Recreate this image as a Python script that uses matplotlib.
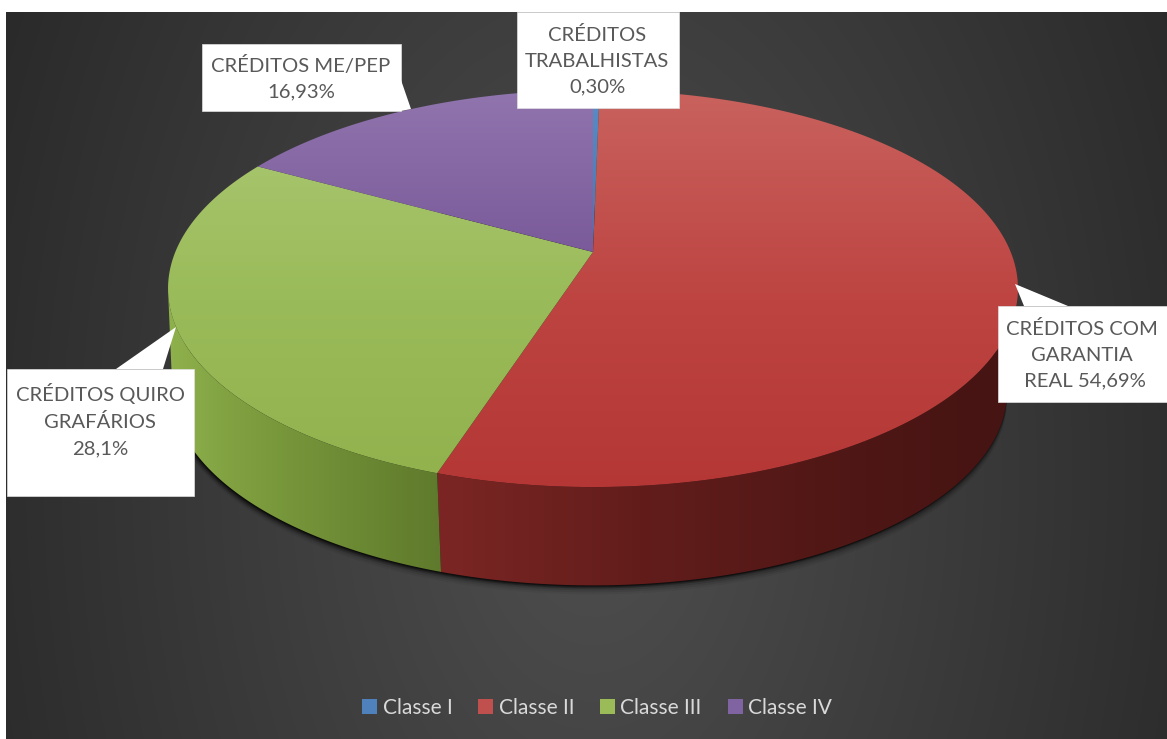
import numpy as np
import matplotlib
matplotlib.use('Agg')
from matplotlib import pyplot as plt
from matplotlib.patches import Polygon, Patch

classes = ['Classe I', 'Classe II', 'Classe III', 'Classe IV']
shares = [0.30, 54.69, 28.1, 16.93]
labels = ['CRÉDITOS\nTRABALHISTAS\n0,30%',
          'CRÉDITOS COM\nGARANTIA\n REAL 54,69%',
          'CRÉDITOS QUIRO\nGRAFÁRIOS\n28,1%',
          'CRÉDITOS ME/PEP\n16,93%']
base_colors = ['#4f81bd', '#c0504d', '#9bbb59', '#8064a2']

W, H = 1167, 739
# pie projection, pixel units
CX, CY = 593, 252
RX, RY, TILT = 417.7, 191.8, 0.184
RIM_CX, RIM_CY = 593, 288.5
SHRINK, BOTTOM_CY = 0.974, 392
LEFT_BULGE = 7

plt.rcParams['font.family'] = ['Lato', 'DejaVu Sans']
fig = plt.figure(figsize=(W / 100, H / 100), dpi=100)
ax = fig.add_axes([0, 0, 1, 1])
ax.axis('off')


def hex_rgb(c):
    return np.array(matplotlib.colors.to_rgb(c))


def top_xy(deg):
    # point of the top face rim, angle clockwise from twelve o'clock
    a = np.radians(deg)
    u, v = np.sin(a), np.cos(a)
    w = 1 + TILT * v
    return CX + RX * u / w, CY - RY * v / w


def bottom_xy(deg):
    x, y = top_xy(deg)
    bulge = LEFT_BULGE * np.clip(-np.sin(np.radians(deg)), 0, 1) ** 3
    return RIM_CX + (x - RIM_CX) * SHRINK - bulge, BOTTOM_CY + (y - RIM_CY) * SHRINK


def gradient_fill(poly, stops, axis='y', zorder=2):
    # paint a polygon with a linear gradient through (pixel, colour) stops
    pos = [s[0] for s in stops]
    cols = np.array([hex_rgb(s[1]) for s in stops])
    n = H if axis == 'y' else W
    t = np.arange(n) + 0.5
    ramp = np.stack([np.interp(t, pos, cols[:, i]) for i in range(3)], axis=-1)
    img = ramp[:, None, :] if axis == 'y' else ramp[None, :, :]
    im = ax.imshow(img, extent=[0, W, H, 0], aspect='auto', zorder=zorder,
                   interpolation='bilinear')
    patch = Polygon(poly, closed=True, transform=ax.transData, fc='none', ec='none')
    ax.add_patch(patch)
    im.set_clip_path(patch)


def wall_visible(deg):
    # the wall faces the viewer where the rim runs left to right across the drop
    tx0, ty0 = top_xy(deg - 0.05)
    tx1, ty1 = top_xy(deg + 0.05)
    bx, by = bottom_xy(deg)
    tx, ty = top_xy(deg)
    return (tx1 - tx0) * (by - ty) - (ty1 - ty0) * (bx - tx) < 0


# background glow
yy, xx = np.mgrid[0:H, 0:W]
dist = np.sqrt(((xx - 590) / 590.0) ** 2 + ((yy - 470) / 950.0) ** 2)
shade = np.clip(0.31 - 0.13 * dist, 0, 1)
ax.imshow(np.dstack([shade] * 3), extent=[6, W, H, 12], aspect='auto', zorder=0)

# soft shadow under the pie
ring = np.linspace(0, 360, 361)
bx, by = bottom_xy(ring)
for off, alpha in zip([9, 7, 5, 3, 1.5], [0.05, 0.08, 0.12, 0.18, 0.28]):
    ax.fill(bx, by + off, color='black', alpha=alpha, lw=0, zorder=1)
    ax.fill(bx - off * 0.5, by + off * 0.4, color='black', alpha=alpha, lw=0, zorder=1)

cum = np.cumsum([0] + shares) / sum(shares) * 360

side_stops = [
    [(0, '#3b6ea5'), (W, '#2c5480')],
    [(441, '#7b2624'), (640, '#621d1b'), (850, '#4f1715'), (1010, '#451413')],
    [(170, '#8fb14c'), (240, '#7f9f40'), (340, '#6e8c35'), (441, '#5f7a2c')],
    [(0, '#59447a'), (W, '#59447a')],
]
top_stops = [
    [(90, '#5b8cc5'), (250, '#4477b5')],
    [(90, '#c9625e'), (300, '#bd4441'), (490, '#b43735')],
    [(165, '#a6c46b'), (300, '#9abb59'), (475, '#91b24d')],
    [(90, '#9175ae'), (255, '#7a5a9a')],
]

# outer wall first, the top face goes over it
for i in range(len(shares)):
    arc = np.linspace(cum[i], cum[i + 1], 400)
    arc = arc[wall_visible(arc)]
    if len(arc) < 2:
        continue
    tx, ty = top_xy(arc)
    bx, by = bottom_xy(arc)
    wall = np.r_[np.c_[tx, ty], np.c_[bx, by][::-1]]
    gradient_fill(wall, side_stops[i], axis='x', zorder=2)

for i in range(len(shares)):
    arc = np.linspace(cum[i], cum[i + 1], 200)
    tx, ty = top_xy(arc)
    face = np.r_[[[CX, CY]], np.c_[tx, ty]]
    gradient_fill(face, top_stops[i], axis='y', zorder=3)

# callouts: box corners, pointer base and tip
boxes = [
    (517, 679, 12, 108, None),
    (998, 1167, 306, 402, [(1024, 306), (1015, 284), (1068, 306)]),
    (7, 193.5, 369, 496, [(116, 369), (176, 327), (163, 369)]),
    (202, 401, 44, 111, [(401, 80), (411, 109), (401, 111)]),
]
text_pos = [(597, 61), (1082, 355), (100, 420), (301, 78)]

for (x0, x1, y0, y1, ptr), (tx, ty), lab in zip(boxes, text_pos, labels):
    ax.add_patch(Polygon([(x0, y0), (x1, y0), (x1, y1), (x0, y1)], closed=True,
                         fc='white', ec='#e0e0e0', lw=0.5, zorder=5))
    if ptr:
        ax.add_patch(Polygon(ptr, closed=True, fc='white', ec='none', zorder=5))
    ax.text(tx, ty, lab, ha='center', va='center', fontsize=14.6, color='#595959',
            linespacing=1.62, zorder=6)

handles = [Patch(fc=c, ec='none') for c in base_colors]
ax.legend(handles, classes, ncol=4, loc='center', bbox_to_anchor=(597 / W, 1 - 708 / H),
          frameon=False, fontsize=15, labelcolor='#d9d9d9', handlelength=0.72,
          handleheight=0.72, handletextpad=0.25, columnspacing=1.25)

ax.set_xlim(0, W)
ax.set_ylim(H, 0)
fig.savefig('out.png', dpi=100, facecolor='white')
plt.close(fig)
